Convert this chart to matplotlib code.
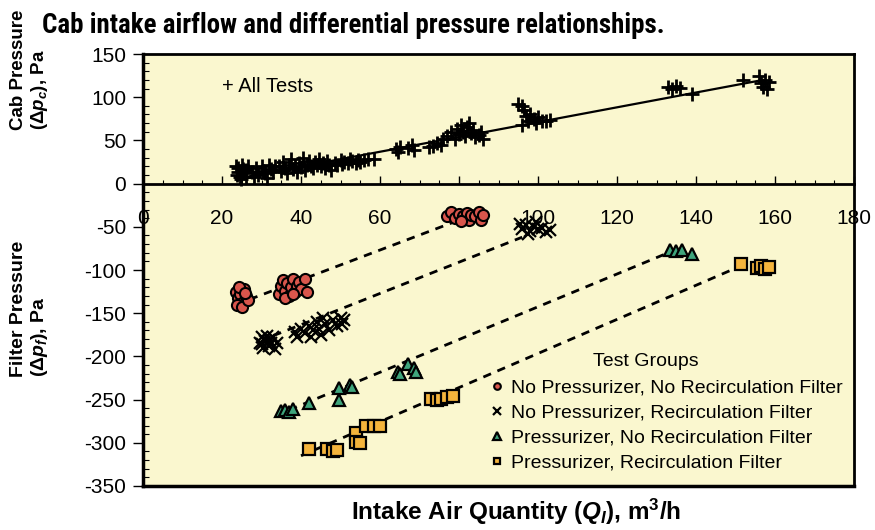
import matplotlib
matplotlib.use('Agg')
import matplotlib.pyplot as plt
from matplotlib import font_manager
from matplotlib.ticker import MultipleLocator

plt.rcParams['font.family'] = ['Liberation Sans', 'DejaVu Sans']
plt.rcParams['axes.unicode_minus'] = False
plt.rcParams['mathtext.fontset'] = 'custom'
plt.rcParams['mathtext.rm'] = 'Liberation Sans:bold'
plt.rcParams['mathtext.it'] = 'Liberation Sans:italic:bold'
plt.rcParams['mathtext.bf'] = 'Liberation Sans:bold'

# pick a condensed bold face for the title if one is installed
title_family, title_stretch = 'Liberation Sans', 'normal'
fonts = font_manager.fontManager.ttflist
names = {f.name for f in fonts}
for cand in ['Liberation Sans Narrow', 'Roboto Condensed', 'Open Sans Condensed']:
    if cand in names:
        title_family = cand
        break
else:
    if any(f.name == 'DejaVu Sans' and f.stretch == 'condensed' for f in fonts):
        title_family, title_stretch = 'DejaVu Sans', 'condensed'

#=========================
# cab pressure, all tests
#=========================
cab_x = [23.5, 24, 24.5, 24, 25, 25.5, 26, 24.8, 26.5, 23.8, 25.2, 26,
         27.5, 28.5, 29, 30, 30.5, 31, 32, 32.5, 33, 33.5, 28, 31.5,
         34.5, 35, 35.5, 36, 36.5, 37, 37.5, 38, 38.5, 39, 39.5, 40, 40.5, 41,
         41.5, 42, 42.5, 43, 43.5, 44, 44.5, 45, 45.5, 46, 46.5, 47, 47.5,
         48.5, 49, 50, 50.5, 51, 52, 52.5, 53, 54, 54.5, 55, 56, 57, 58.5,
         64, 64.5, 65, 67, 68, 68.5,
         72.5, 73.5, 74.5, 75.5, 76,
         77, 78, 79, 79.5, 80, 80.5, 81, 81.5, 82, 82.5, 83, 83.5, 84, 85, 86, 85.5,
         95, 96, 96.5, 97, 97.5, 98, 99, 99.5, 100, 101, 102, 103, 96,
         133, 134, 135, 136, 139,
         152, 156, 156.5, 157, 157.5, 158, 158.5]
cab_y = [20, 14, 8, 18, 22, 12, 16, 5, 20, 10, 17, 8,
         14, 18, 10, 20, 15, 12, 22, 17, 13, 20, 8, 6,
         20, 15, 25, 18, 12, 22, 28, 17, 20, 14, 24, 19, 30, 16,
         22, 26, 20, 18, 25, 22, 28, 20, 24, 18, 26, 22, 16,
         24, 21, 27, 23, 25, 24, 28, 26, 24, 27, 25, 27, 29, 28,
         40, 37, 42, 41, 45, 39,
         42, 44, 47, 45, 52,
         55, 60, 52, 63, 57, 68, 60, 55, 65, 70, 58, 62, 54, 56, 52, 60,
         92, 90, 85, 78, 72, 80, 75, 70, 77, 73, 72, 74, 68,
         112, 110, 113, 111, 104,
         120, 124, 116, 112, 120, 110, 118]
cab_fit_x = [24, 157]
cab_fit_y = [6, 120]

#=========================
# filter pressure, test groups
#=========================
np_nr_x = [23.5, 24, 24.5, 25, 25.5, 26, 23.8, 25, 26.5, 24.2, 25.8,
           34.5, 35, 35.5, 36, 36.5, 37, 37.5, 38, 38.5, 39, 39.5, 40, 41, 41.5, 36, 38,
           77, 78, 79, 80, 81, 82, 82.5, 83, 84, 85, 85.5, 86, 80.5]
np_nr_y = [-125, -132, -128, -138, -122, -130, -140, -143, -135, -120, -127,
           -128, -118, -112, -124, -115, -130, -120, -110, -126, -118, -114, -122, -110, -125, -132, -128,
           -37, -33, -40, -35, -38, -34, -42, -36, -38, -33, -42, -36, -43]
np_nr_fit_x = [27, 79]
np_nr_fit_y = [-134, -44]

np_r_x = [29.5, 30, 30.5, 31, 31.5, 32, 32.5, 33, 33.5, 34, 30, 32,
          38.5, 39, 40, 41, 42, 42.5, 43, 44, 44.5, 45, 45.5, 46, 47, 48, 49, 50, 50.5, 51,
          95.5, 96, 97, 98, 99, 100, 101, 102, 103, 97.5, 99.5]
np_r_y = [-185, -178, -190, -182, -176, -188, -184, -178, -192, -185, -186, -181,
          -172, -178, -168, -173, -165, -178, -170, -160, -168, -175, -155, -163, -170, -158, -165, -155, -162, -158,
          -47, -52, -48, -55, -50, -53, -51, -56, -54, -58, -45]
np_r_fit_x = [33, 96]
np_r_fit_y = [-176, -62]

p_nr_x = [35, 36, 37, 38, 42, 49.5, 49.5, 52.5, 53, 64.5, 65, 67, 68.5, 69,
          133.5, 135, 136.5, 139]
p_nr_y = [-263, -262, -264, -261, -254, -236, -250, -233, -235, -218, -220, -209, -213, -218,
          -77, -78, -77, -81]
p_nr_fit_x = [37, 133]
p_nr_fit_y = [-262, -80]

p_r_x = [42, 46.5, 48, 49, 54, 54, 55, 56.5, 58.5, 60, 73, 74.5, 75.5, 77, 78.5,
         151.5, 155.5, 156.5, 157.5, 158.5]
p_r_y = [-307, -307, -309, -308, -289, -299, -300, -280, -280, -281, -249, -251, -249, -247, -246,
         -93, -98, -95, -99, -96]
p_r_fit_x = [40, 151]
p_r_fit_y = [-315, -96]

group_labels = ['No Pressurizer, No Recirculation Filter',
                'No Pressurizer, Recirculation Filter',
                'Pressurizer, No Recirculation Filter',
                'Pressurizer, Recirculation Filter']

fig = plt.figure(figsize=(8.75, 5.3), dpi=100)
ax = fig.add_axes([143 / 875, 1 - 486 / 530, 711 / 875, 432 / 530])
ax.set_facecolor('#faf7cf')

# fit lines
ax.plot(cab_fit_x, cab_fit_y, '-', color='black', lw=1.6, zorder=2)
for fx, fy in [(np_nr_fit_x, np_nr_fit_y), (np_r_fit_x, np_r_fit_y),
               (p_nr_fit_x, p_nr_fit_y), (p_r_fit_x, p_r_fit_y)]:
    ax.plot(fx, fy, '--', color='black', lw=2, dashes=(3, 2.5), zorder=2)

ax.plot(cab_x, cab_y, '+', color='black', ms=10, mew=2, zorder=3)
h1, = ax.plot(np_nr_x, np_nr_y, 'o', mfc='#d9564c', mec='black', ms=8, mew=1.5, zorder=3)
h2, = ax.plot(np_r_x, np_r_y, 'x', color='black', ms=9, mew=1.6, zorder=3)
h3, = ax.plot(p_nr_x, p_nr_y, '^', mfc='#3fa57c', mec='black', ms=9, mew=1.6, zorder=3)
h4, = ax.plot(p_r_x, p_r_y, 's', mfc='#f4b43c', mec='black', ms=8, mew=1.6, zorder=3)

ax.set_xlim(0, 180)
ax.set_ylim(-350, 150)
ax.xaxis.set_major_locator(MultipleLocator(20))
ax.xaxis.set_minor_locator(MultipleLocator(5))
ax.yaxis.set_major_locator(MultipleLocator(50))
ax.yaxis.set_minor_locator(MultipleLocator(10))

ax.spines['bottom'].set_position(('data', 0))
ax.spines['bottom'].set_linewidth(2)
ax.spines['left'].set_linewidth(2.5)
ax.spines['top'].set_linewidth(2)
ax.spines['right'].set_linewidth(2)
# frame line at the bottom of the plot area
ax.axhline(ax.get_ylim()[0], color='black', lw=2.5, clip_on=False, zorder=5)

ax.tick_params(axis='x', which='major', direction='in', length=6, width=1, pad=18, labelsize=15)
ax.tick_params(axis='x', which='minor', direction='in', length=3, width=0.8)
ax.tick_params(axis='y', which='major', direction='out', length=7, width=1, pad=5, labelsize=15)
ax.tick_params(axis='y', which='minor', direction='in', length=4, width=0.8)

ax.text(20, 112, '+ All Tests', fontsize=14.5, ha='left', va='center')

# legend with its heading placed on its own
ax.text((646 - 143) / 711, (486 - 362) / 432, 'Test Groups', transform=ax.transAxes,
        fontsize=14, ha='center', va='center')
leg = ax.legend([h1, h2, h3, h4], group_labels,
                loc='upper left', bbox_to_anchor=(0.49, (486 - 379) / 432), frameon=False,
                fontsize=14, markerscale=0.6,
                handlelength=0.6, handletextpad=0.4, labelspacing=0.38,
                borderpad=0, borderaxespad=0)

title = fig.text(0.048, 0.977, 'Cab intake airflow and differential pressure relationships.',
                 fontsize=17, weight='bold', family=title_family, stretch=title_stretch,
                 ha='left', va='top')
# scale title to the width it has in the original
fig.canvas.draw()
w = title.get_window_extent().width
title.set_fontsize(17 * 623 / w)

fig.text(0.034, 1 - 130 / 530, 'Cab Pressure\n($\\mathit{Δp_c}$), Pa', rotation=90,
         fontsize=13.5, weight='bold', ha='center', va='bottom', multialignment='left',
         linespacing=1.1)
fig.text(0.034, 1 - 377 / 530, 'Filter Pressure\n($\\mathit{Δp_f}$), Pa', rotation=90,
         fontsize=14, weight='bold', ha='center', va='bottom', multialignment='left',
         linespacing=1.1)
fig.text(0.59, 0.034, 'Intake Air Quantity ($\\mathit{Q_I}$), m$^3$/h',
         fontsize=17.5, weight='bold', ha='center', va='center')

plt.savefig('out.png', dpi=100)
